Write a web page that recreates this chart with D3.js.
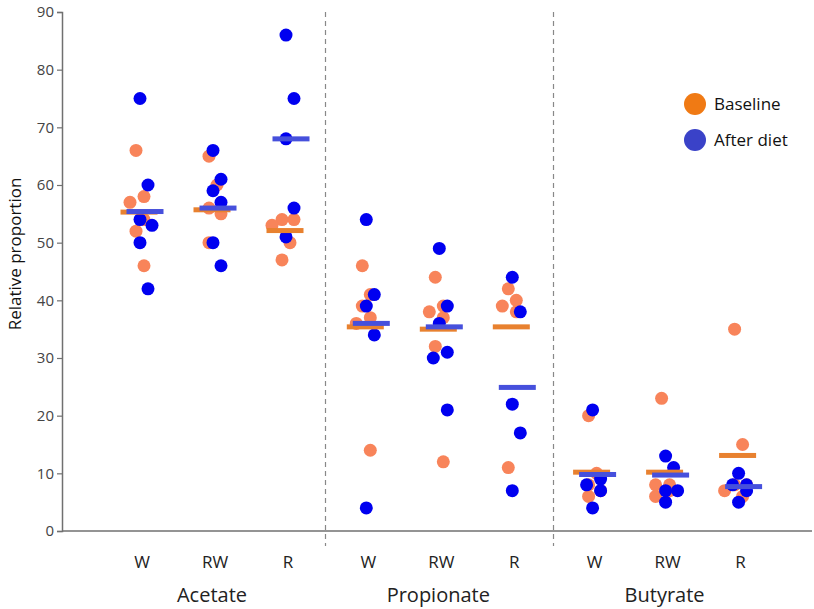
<!DOCTYPE html>
<html>
<head>
<meta charset="utf-8">
<script src="https://cdn.jsdelivr.net/npm/d3@7"></script>
<style>
  html, body { margin: 0; padding: 0; background: #fff; }
  svg { display: block; font-family: "Open Sans", "Noto Sans", sans-serif; }
</style>
</head>
<body>
<svg id="chart" width="814" height="609"></svg>
<script>
// ---- data ----
const groups = ["Acetate", "Propionate", "Butyrate"];
const subgroups = ["W", "RW", "R"];
const yTicks = [0, 10, 20, 30, 40, 50, 60, 70, 80, 90];
const seriesNames = ["Baseline", "After diet"];

// individual values, order: Acetate W,RW,R, Propionate W,RW,R, Butyrate W,RW,R
const baselineValues = [
  [66, 58, 57, 54, 52, 46],
  [65, 60, 56, 55, 50],
  [54, 54, 53, 50, 47],
  [46, 41, 39, 37, 36, 14],
  [44, 39, 38, 37, 32, 12],
  [42, 40, 39, 38, 11],
  [20, 10, 8, 7, 6],
  [23, 8, 8, 7, 6],
  [35, 15, 8, 8, 7, 6]
];
const afterValues = [
  [75, 60, 54, 53, 50, 42],
  [66, 61, 59, 57, 50, 46],
  [86, 75, 68, 56, 51],
  [54, 41, 39, 34, 4],
  [49, 39, 36, 31, 30, 21],
  [44, 38, 22, 17, 7],
  [21, 9, 8, 7, 4],
  [13, 11, 7, 7, 5],
  [10, 8, 8, 7, 5]
];
// mean lines
const baselineMeans = [55.3, 55.7, 52.1, 35.4, 35.0, 35.4, 10.2, 10.2, 13.1];
const afterMeans    = [55.4, 56.0, 68.0, 36.0, 35.4, 24.9, 9.8, 9.7, 7.7];

// ---- layout ----
const svg = d3.select("#chart");
const plotLeft = 62, plotRight = 812, plotTop = 12, plotBottom = 531;
const gapBetweenGroups = 0.1;

const y = d3.scaleLinear().domain([0, 90]).range([plotBottom, plotTop]);
// slot index (with small gap between groups) -> pixel
const x = d3.scaleLinear().domain([0, 1]).range([142, 215]);
const slot = (g, s) => g * (subgroups.length + gapBetweenGroups) + s;

const colors = {
  dotBase: "#f8845a", dotAfter: "#0000f0",
  meanBase: "#e8812f", meanAfter: "#4650dc",
  legBase: "#f07a14", legAfter: "#3a42c8"
};

// y axis
const yAxis = d3.axisLeft(y).tickValues(yTicks).tickSize(5).tickPadding(3);
const yg = svg.append("g").attr("transform", `translate(${plotLeft},0)`).call(yAxis);
yg.select(".domain").attr("stroke", "#707070").attr("stroke-width", 1.5);
yg.selectAll(".tick line").attr("stroke", "#707070").attr("stroke-width", 1.2);
yg.selectAll(".tick text").attr("fill", "#444").style("font-size", "15px")
  .style("font-family", "'Open Sans', sans-serif");

// x axis line
svg.append("line")
  .attr("x1", plotLeft).attr("x2", plotRight)
  .attr("y1", plotBottom).attr("y2", plotBottom)
  .attr("stroke", "#707070").attr("stroke-width", 1.5);

// separators
[1, 2].forEach(g => {
  const sx = Math.round(x(slot(g - 1, subgroups.length - 1) + 0.5 + (g - 1) * 0.03)) + 0.5;
  svg.append("line")
    .attr("x1", sx).attr("x2", sx)
    .attr("y1", plotTop).attr("y2", plotBottom + 15)
    .attr("stroke", "#888").attr("stroke-width", 1.2)
    .attr("stroke-dasharray", "5,4");
});

// category labels
groups.forEach((grp, g) => {
  subgroups.forEach((sub, s) => {
    svg.append("text")
      .attr("x", x(slot(g, s))).attr("y", 568)
      .attr("text-anchor", "middle").attr("fill", "#222")
      .style("font-size", "17px").text(sub);
  });
  svg.append("text")
    .attr("x", x(slot(g, 1)) - 3).attr("y", 602)
    .attr("text-anchor", "middle").attr("fill", "#222")
    .style("font-size", "20px").text(grp);
});

// y title
svg.append("text")
  .attr("transform", `translate(21,254) rotate(-90)`)
  .attr("text-anchor", "middle").attr("fill", "#111")
  .style("font-size", "17px").text("Relative proportion");

// dodge layout (deterministic) for dots within one category / series
const r = 6.5;
function dodge(values, cx) {
  const placed = [];
  const cands = [-3, 5, -9, 9, 0, -13, 13];
  const sorted = values.map((v, i) => ({ v, i })).sort((a, b) => b.v - a.v);
  sorted.forEach((d, k) => {
    const py = y(d.v);
    let best = null;
    const order = cands.slice(k % 2).concat(cands.slice(0, k % 2));
    for (const c of order) {
      const px = cx + c;
      if (placed.every(p => Math.hypot(p.x - px, p.y - py) >= 10)) { best = px; break; }
    }
    if (best === null) best = cx + order[0];
    placed.push({ x: best, y: py, v: d.v });
  });
  return placed;
}

const dotsLayer = svg.append("g");
const meanLayer = svg.append("g");
groups.forEach((grp, g) => {
  subgroups.forEach((sub, s) => {
    const idx = g * subgroups.length + s;
    const cx = x(slot(g, s));
    const bDots = dodge(baselineValues[idx], cx - 3);
    const aDots = dodge(afterValues[idx], cx + 1);
    dotsLayer.selectAll(null).data(bDots).enter().append("circle")
      .attr("cx", d => d.x).attr("cy", d => d.y).attr("r", r)
      .attr("fill", colors.dotBase);
    dotsLayer.selectAll(null).data(aDots).enter().append("circle")
      .attr("cx", d => d.x).attr("cy", d => d.y).attr("r", r)
      .attr("fill", colors.dotAfter);
    const w = 37, h = 5;
    meanLayer.append("rect")
      .attr("x", cx - 3 - w / 2).attr("y", y(baselineMeans[idx]) - h / 2)
      .attr("width", w).attr("height", h).attr("fill", colors.meanBase);
    meanLayer.append("rect")
      .attr("x", cx + 3 - w / 2).attr("y", y(afterMeans[idx]) - h / 2)
      .attr("width", w).attr("height", h).attr("fill", colors.meanAfter);
  });
});

// legend
const legend = svg.append("g");
seriesNames.forEach((name, i) => {
  const ly = 104 + i * 36;
  legend.append("circle").attr("cx", 695).attr("cy", ly).attr("r", 11)
    .attr("fill", i === 0 ? colors.legBase : colors.legAfter);
  legend.append("text").attr("x", 714).attr("y", ly + 6)
    .attr("fill", "#111").style("font-size", "17px").text(name);
});
</script>
</body>
</html>
